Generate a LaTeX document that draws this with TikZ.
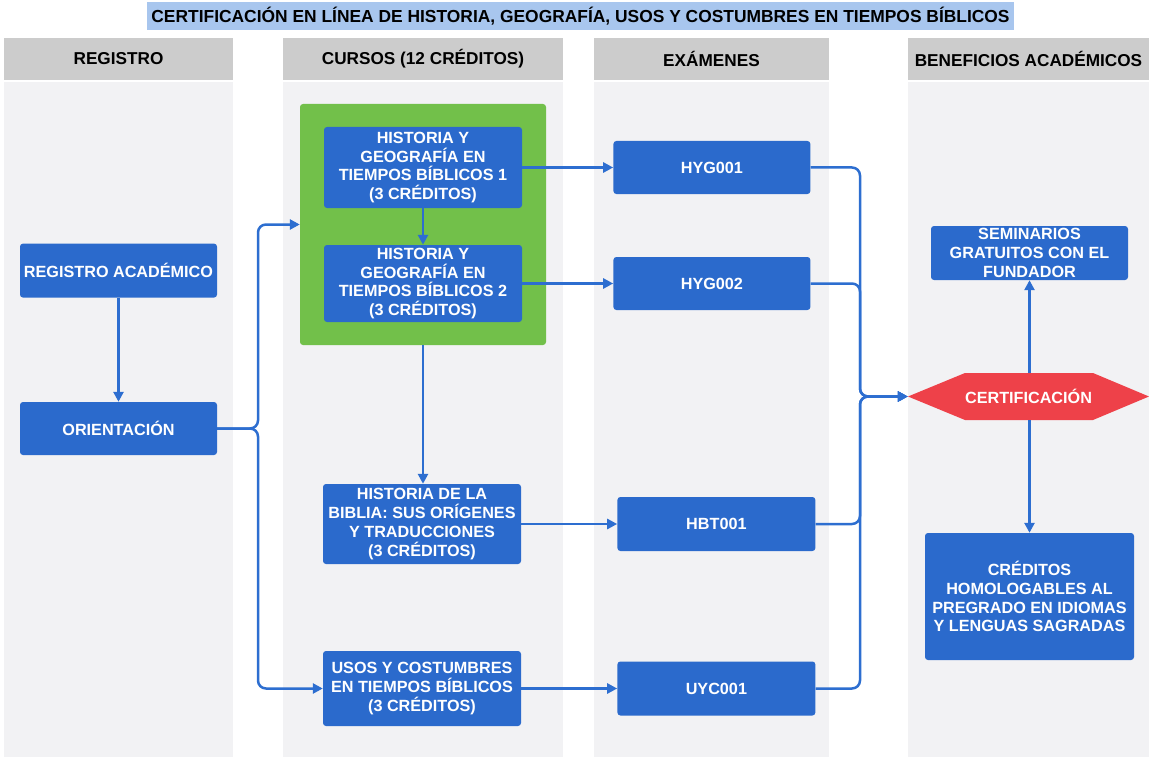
\documentclass[tikz,border=0pt]{standalone}
\usepackage{fontspec}
\setmainfont{Liberation Sans}
\usetikzlibrary{positioning,arrows.meta}

\definecolor{boxblue}{RGB}{43,106,204}
\definecolor{lineblue}{RGB}{45,110,208}
\definecolor{lanegray}{RGB}{242,242,244}
\definecolor{headgray}{RGB}{204,204,204}
\definecolor{titleblue}{RGB}{168,198,238}
\definecolor{groupgreen}{RGB}{114,192,74}
\definecolor{certred}{RGB}{238,65,73}

\tikzset{
  box/.style={fill=boxblue, rounded corners=3pt, text=white, align=center,
    inner sep=0pt, font=\bfseries\fontsize{16.2}{18.8}\selectfont},
  head/.style={fill=headgray, minimum height=42pt, inner sep=0pt,
    font=\bfseries\fontsize{17.2}{20}\selectfont},
  flow/.style={draw=lineblue, line width=2.5pt, rounded corners=8pt,
    -{Triangle[length=10pt,width=10pt]}},
  link/.style={draw=lineblue, line width=2.5pt, rounded corners=8pt}
}

\begin{document}
\begin{tikzpicture}[x=1pt,y=-1pt]
    \useasboundingbox (0,0) rectangle (1149,757);

    % swimlanes
    \foreach \xa/\xb in {4/233,283/563,594/829,908/1149}
      \fill[lanegray] (\xa,82) rectangle (\xb,757);

    \node(title) [fill=titleblue, minimum width=867pt, minimum height=28pt, inner sep=0pt,
      font=\bfseries\fontsize{17.4}{20}\selectfont] at (580.5,16)
      {CERTIFICACIÓN EN LÍNEA DE HISTORIA, GEOGRAFÍA, USOS Y COSTUMBRES EN TIEMPOS BÍBLICOS};

    \node(h1) [head, minimum width=229pt] at (118.5,59) {REGISTRO};
    \node(h2) [head, minimum width=280pt] at (423,59) {CURSOS (12 CRÉDITOS)};
    \node(h3) [head, minimum width=235pt] at (711.5,59) {EXÁMENES};
    \node(h4) [head, minimum width=241pt] at (1028.5,59) {BENEFICIOS ACADÉMICOS};

    % registro
    \node(r2) [box, minimum width=197pt, minimum height=53pt] at (118.5,428.5) {ORIENTACIÓN};
    \node(r1) [box, minimum width=197pt, minimum height=54pt, above=104pt of r2] {REGISTRO ACADÉMICO};

    % cursos
    \node(grp) [fill=groupgreen, rounded corners=3pt, minimum width=246pt, minimum height=241pt,
      inner sep=0pt] at (423,224.5) {};
    \node(c1) [box, minimum width=198pt, minimum height=81pt] at (423,167.5)
      {HISTORIA Y\\GEOGRAFÍA EN\\TIEMPOS BÍBLICOS 1\\(3 CRÉDITOS)};
    \node(c2) [box, minimum width=198pt, minimum height=77pt] at (423,283.5)
      {HISTORIA Y\\GEOGRAFÍA EN\\TIEMPOS BÍBLICOS 2\\(3 CRÉDITOS)};
    \node(c3) [box, minimum width=198pt, minimum height=80pt] at (422,524)
      {HISTORIA DE LA\\BIBLIA: SUS ORÍGENES\\Y TRADUCCIONES\\(3 CRÉDITOS)};
    \node(c4) [box, minimum width=198pt, minimum height=75pt] at (422,688.5)
      {USOS Y COSTUMBRES\\EN TIEMPOS BÍBLICOS\\(3 CRÉDITOS)};

    % examenes
    \node(e1) [box, minimum width=197pt, minimum height=53pt, right=91pt of c1] {HYG001};
    \node(e2) [box, minimum width=197pt, minimum height=53pt, right=91pt of c2] {HYG002};
    \node(e3) [box, minimum width=198pt, minimum height=54pt, right=96pt of c3] {HBT001};
    \node(e4) [box, minimum width=198pt, minimum height=54pt, right=96pt of c4] {UYC001};

    % beneficios
    \fill[certred] (908,396.5) -- (965,373) -- (1093,373) -- (1149,396.5)
      -- (1093,420) -- (965,420) -- cycle;
    \node(cert) [minimum width=241pt, minimum height=47pt, inner sep=0pt, text=white,
      font=\bfseries\fontsize{16.2}{18.8}\selectfont] at (1028.5,396.5) {CERTIFICACIÓN};
    \node(b1) [box, minimum width=197pt, minimum height=54pt] at (1029.5,253)
      {SEMINARIOS\\GRATUITOS CON EL\\FUNDADOR};
    \node(b2) [box, minimum width=209pt, minimum height=127pt] at (1029.5,596.5)
      {CRÉDITOS\\HOMOLOGABLES AL\\PREGRADO EN IDIOMAS\\Y LENGUAS SAGRADAS};

    \coordinate(split) at (258,428.5);
    \coordinate(merge) at (860,396.5);

    \draw[flow] (r1) -- (r2);
    \draw[flow] (r2.east) -- (split) |- (grp.west);
    \draw[flow] (r2.east) -- (split) |- (c4.west);
    \draw[flow] (c1) -- (c2);
    \draw[flow] (grp.south) -- (c3.north -| grp.south);
    \draw[flow] (c1) -- (e1);
    \draw[flow] (c2) -- (e2);
    \draw[flow] (c3) -- (e3);
    \draw[flow] (c4) -- (e4);
    \draw[flow] (e1.east) -| (merge) -- (cert.west);
    \draw[flow] (e2.east) -| (merge) -- (cert.west);
    \draw[flow] (e3.east) -| (merge) -- (cert.west);
    \draw[flow] (e4.east) -| (merge) -- (cert.west);
    \draw[flow] (cert.north -| b1.south) -- (b1.south);
    \draw[flow] (cert.south -| b1.south) -- (b2.north -| b1.south);
  \end{tikzpicture}
\end{document}
